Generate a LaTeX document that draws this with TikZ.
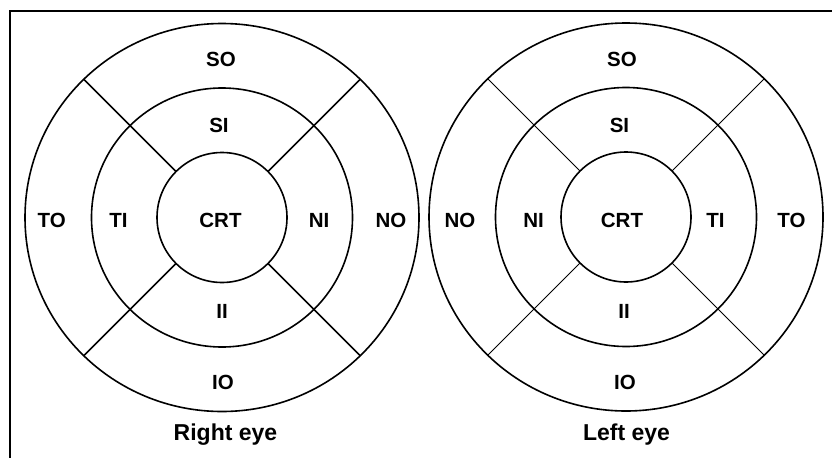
\documentclass[tikz,border=0pt]{standalone}
\usepackage{fontspec}
\setmainfont{Liberation Sans}
\usetikzlibrary{calc}
\begin{document}
\begin{tikzpicture}[x=1pt,y=-1pt,
  ring/.style={draw=black,line width=1.6pt},
  spoke/.style={draw=black,line width=1.5pt},
  thinspoke/.style={draw=black,line width=0.9pt},
  lab/.style={font=\fontsize{20.5}{21}\selectfont\bfseries,inner sep=0pt,anchor=base},
  ttl/.style={font=\fontsize{23}{24}\selectfont\bfseries,inner sep=0pt,anchor=base},
  frame/.style={draw=black,line width=1.5pt}]
\useasboundingbox (0,0) rectangle (832,458);
% frame
\coordinate (fTR) at (832,11);
\coordinate (fTL) at (10,11);
\coordinate (fBL) at (10,458);
\draw[frame] (fTR) -- (fTL) -- (fBL);
% ---------- Right eye ----------
\coordinate (R) at (222,217.5);
\draw[ring] (R) ellipse [x radius=197, y radius=194];
\draw[ring] (R) ellipse [x radius=130.5, y radius=129.5];
\draw[ring] (R) circle [radius=65];
\foreach \a in {45,135,225,315}{
  \coordinate (Ri\a) at ($(R)+(\a:65)$);
  \coordinate (Ro\a) at ($(R)+(\a:195.5)$);
  \draw[spoke] (Ri\a) -- (Ro\a);
}
\node[lab] (rSO) at (221,66) {SO};
\node[lab] (rSI) at (219,132) {SI};
\node[lab] (rCRT) at (220.5,227) {CRT};
\node[lab] (rTO) at (51.7,227.5) {TO};
\node[lab] (rTI) at (118.5,227.5) {TI};
\node[lab] (rNI) at (319,227.5) {NI};
\node[lab] (rNO) at (391,227.5) {NO};
\node[lab] (rII) at (222,318) {II};
\node[lab] (rIO) at (223,389) {IO};
\node[ttl] (rT) at (225.5,440) {Right eye};
% ---------- Left eye ----------
\coordinate (L) at (626,217);
\draw[ring] (L) ellipse [x radius=197, y radius=194];
\draw[ring] (L) ellipse [x radius=130.5, y radius=129.5];
\draw[ring] (L) circle [radius=65];
\foreach \a in {45,135,225,315}{
  \coordinate (Li\a) at ($(L)+(\a:65)$);
  \coordinate (Lo\a) at ($(L)+(\a:195.5)$);
  \draw[thinspoke] (Li\a) -- (Lo\a);
}
\node[lab] (lSO) at (622,66) {SO};
\node[lab] (lSI) at (619.5,132) {SI};
\node[lab] (lCRT) at (622,227) {CRT};
\node[lab] (lNO) at (460,227.5) {NO};
\node[lab] (lNI) at (533.5,227.5) {NI};
\node[lab] (lTI) at (715.5,227.5) {TI};
\node[lab] (lTO) at (791.5,227.5) {TO};
\node[lab] (lII) at (624,318) {II};
\node[lab] (lIO) at (625,389) {IO};
\node[ttl] (lT) at (626.5,440) {Left eye};
\end{tikzpicture}
\end{document}
